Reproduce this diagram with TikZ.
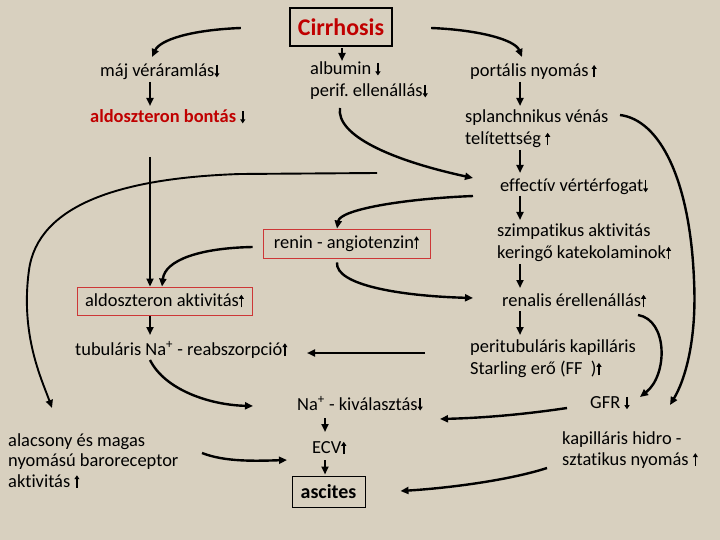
\documentclass[tikz,border=0pt]{standalone}
\usepackage{fontspec}
\setmainfont{Carlito}[Ligatures={NoCommon}]
\usetikzlibrary{arrows.meta}
\definecolor{bgc}{RGB}{216,208,191}
\definecolor{darkred}{RGB}{192,0,0}
\definecolor{boxred}{RGB}{205,55,55}
\newsavebox\upa
\newsavebox\dna
\newcommand{\mkarrow}[2]{%
  \begin{pgfpicture}%
    \pgfsetbaseline{0pt}%
    \pgfsetlinewidth{1.6pt}%
    \pgfsetarrowsend{Triangle[length=4pt,width=5pt]}%
    \pgfpathmoveto{\pgfpoint{0pt}{#1}}%
    \pgfpathlineto{\pgfpoint{0pt}{#2}}%
    \pgfusepath{stroke}%
  \end{pgfpicture}}
\frenchspacing
\begin{document}
\sbox\upa{\mkarrow{-0.5pt}{12pt}}
\sbox\dna{\mkarrow{12pt}{-0.5pt}}
\newcommand{\UA}{\usebox\upa}
\newcommand{\DA}{\usebox\dna}
\begin{tikzpicture}[x=1bp,y=-1bp,
  txt/.style={inner sep=0pt, anchor=west, align=left, font=\fontsize{18.5}{22}\selectfont},
  txtb/.style={txt, font=\fontsize{18.5}{20.5}\selectfont},
  redbox/.style={draw=boxred, line width=0.9bp, inner sep=0pt, font=\fontsize{18.5}{22}\selectfont},
  arr/.style={line width=2.4bp, -{Triangle[length=8bp,width=7bp]}},
  thinarr/.style={line width=1.9bp, -{Triangle[length=8bp,width=7bp]}}]
\fill[bgc] (0,0) rectangle (720,540);
\useasboundingbox (0,0) rectangle (720,540);

% nodes
\node[draw=black, line width=2.4bp, minimum width=102bp, minimum height=38bp, inner sep=0pt,
      text=darkred, font=\fontsize{24}{28}\bfseries] (cirr) at (341,27) {Cirrhosis};
\node[txt] (maj) at (100,72) {máj véráramlás\DA};
\node[txt] (alb) at (310,81) {albumin \DA\\perif. ellenállás\DA};
\node[txt] (port) at (470,72) {portális nyomás\,\UA};
\node[txt, text=darkred, font=\fontsize{18.5}{22}\bfseries] (aldb) at (90,117) {aldoszteron bontás \textcolor{black}{\DA}};
\node[txt] (spl) at (465,129) {splanchnikus vénás\\telítettség \UA};
\node[txt] (eff) at (500,187) {effectív vértérfogat\DA};
\node[redbox, minimum width=167bp, minimum height=29bp] (renin) at (346.5,243.5) {renin - angiotenzin\UA};
\node[txt] (szimp) at (497,243) {szimpatikus aktivitás\\keringő katekolaminok\UA};
\node[redbox, minimum width=175bp, minimum height=28bp] (aldakt) at (164.5,301) {aldoszteron aktivitás\UA};
\node[txt] (ren) at (502,301) {renalis érellenállás\UA};
\node[txt] (tub) at (75,350) {tubuláris Na\textsuperscript{+} - reabszorpció\UA};
\node[txt] (peri) at (470,359) {peritubuláris kapilláris\\Starling erő (FF\ \ )\UA};
\node[txt] (naki) at (297,404) {Na\textsuperscript{+} - kiválasztás\DA};
\node[txt] (gfr) at (590,403) {GFR \DA};
\node[txtb] (alac) at (8,461) {alacsony és magas\\nyomású baroreceptor\\aktivitás \UA};
\node[txt] (ecv) at (312,448) {ECV\UA};
\node[txtb] (kap) at (562,450) {kapilláris hidro -\\sztatikus nyomás \UA};
\node[draw=black, line width=1bp, minimum width=73bp, minimum height=31bp, inner sep=0pt,
      font=\fontsize{20}{24}\bfseries] (asc) at (328.5,491.5) {ascites};

% connectors
\draw[arr] ([shift={(-48,1)}]cirr.west) .. controls (190,30) and (160,40) .. ([shift={(52,-15)}]maj.west);
\draw[arr] ([shift={(1,1)}]cirr.south) -- ([shift={(32,-20)}]alb.west);
\draw[arr] ([shift={(38,1)}]cirr.east) .. controls (480,30) and (515,40) .. ([shift={(52,-15)}]port.west);
\draw[arr] ([shift={(50,10)}]maj.west) -- ([shift={(60,-11)}]aldb.west);
\draw[arr] ([shift={(50,10)}]port.west) -- ([shift={(55,-23)}]spl.west);
\draw[arr] ([shift={(55,21)}]spl.west) -- ([shift={(20,-14)}]eff.west);
\draw[arr] ([shift={(30,27)}]alb.west) .. controls (336,135) and (390,160) .. ([shift={(-27,-9)}]eff.west);
\coordinate (baro) at ([shift={(-123,-14)}]eff.west);
\draw[thinarr] (baro) -- (240,174) .. controls (120,178) and (38,205) .. (29,270)
   .. controls (20,335) and (42,380) .. ([shift={(44,-53)}]alac.west);
\draw[arr] ([shift={(-27,9)}]eff.west) .. controls (400,199) and (340,210) .. ([shift={(-9.5,0)}]renin.north);
\draw[arr] ([shift={(-10,3.5)}]renin.west) .. controls (200,248) and (165,260) .. ([shift={(-2.5,0)}]aldakt.north);
\draw[arr] ([shift={(60,40)}]aldb.west) -- ([shift={(-14.5,0)}]aldakt.north);
\draw[arr] ([shift={(-14.5,1)}]aldakt.south) -- ([shift={(75,-15)}]tub.west);
\draw[arr] ([shift={(-9.5,4)}]renin.south) .. controls (335,285) and (400,296) .. ([shift={(-29,-3)}]ren.west);
\draw[arr] ([shift={(20,9)}]eff.west) -- ([shift={(23,-23)}]szimp.west);
\draw[arr] ([shift={(23,21)}]szimp.west) -- ([shift={(18,-13)}]ren.west);
\draw[arr] ([shift={(18,10)}]ren.west) -- ([shift={(50,-24)}]peri.west);
\draw[arr] ([shift={(-45,-6)}]peri.west) -- ([shift={(232,3)}]tub.west);
\draw[arr] ([shift={(75,10)}]tub.west) .. controls (165,390) and (210,405) .. ([shift={(-44,2)}]naki.west);
\draw[arr] ([shift={(-23,5)}]gfr.west) .. controls (520,415) and (480,418) .. ([shift={(143,15)}]naki.west);
\draw[arr] ([shift={(28,14)}]naki.west) -- ([shift={(13,-16)}]ecv.west);
\draw[arr] ([shift={(13,12)}]ecv.west) -- ([shift={(-3.5,-1)}]asc.north);
\draw[arr] ([shift={(194,-8)}]alac.west) .. controls (225,462) and (255,461) .. ([shift={(-25,12)}]ecv.west);
\draw[arr] ([shift={(-15,18)}]kap.west) .. controls (510,480) and (450,488) .. ([shift={(35,-0.5)}]asc.east);
\draw[arr] ([shift={(136,14)}]ren.west) .. controls (668,320) and (668,375) .. ([shift={(50,-6)}]gfr.west);
\draw[arr] ([shift={(155,-14)}]spl.west) .. controls (660,120) and (690,180) .. (694,280)
   .. controls (697,340) and (685,380) .. ([shift={(108,-45)}]kap.west);
\end{tikzpicture}
\end{document}
